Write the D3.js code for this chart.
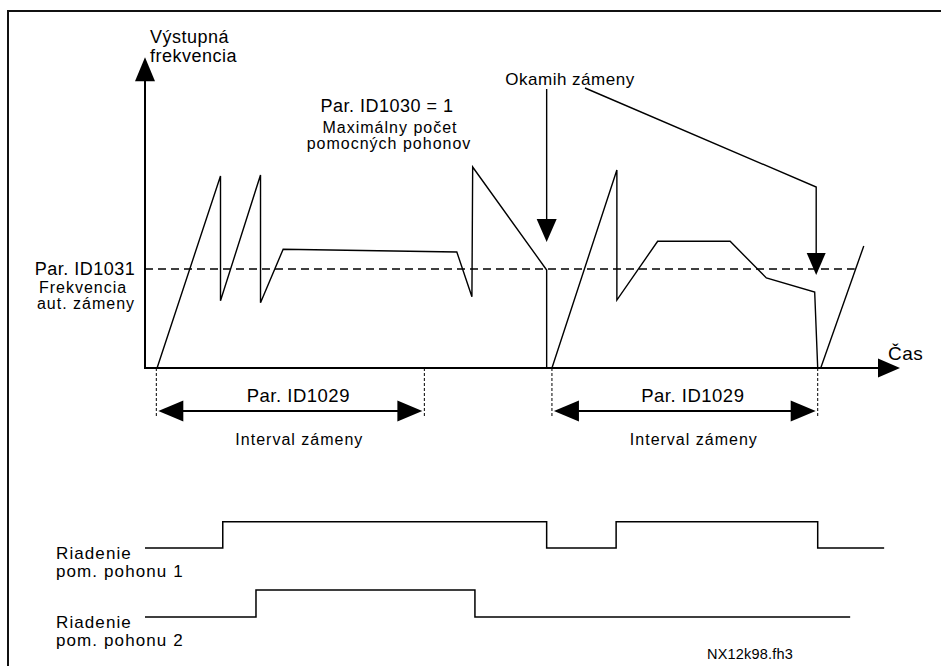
<!DOCTYPE html>
<html>
<head>
<meta charset="utf-8">
<script src="https://cdn.jsdelivr.net/npm/d3@7"></script>
<style>
  body { margin: 0; background: #fff; }
  text { font-family: "Liberation Sans", Arial, sans-serif; fill: #000; letter-spacing: 0.5px; }
  .small { letter-spacing: 1px; }
</style>
</head>
<body>
<div id="chart"></div>
<script>
let width = 941
let height = 666

// output frequency: [time, frequency %] per ramp
let cycle1 = [[1.6,0],[10,97],[10,34],[15.3,97.5],[15.3,33],[18.3,60],[41.3,58.6],[43.3,36],[43.4,101.5],[53.2,49.5],[53.2,0]]
let cycle2 = [[53.9,0],[62.5,100],[62.5,34.3],[67.9,64],[77.5,64],[82.3,45.5],[88.7,38.4],[89.1,0]]
let cycle3 = [[89.5,0],[95.2,61.6]]

let threshold = 50          // Par. ID1031
let thresholdEnd = 94
let changeTimes = [53.2, 88.9]   // okamih zámeny
let changeTips = [63.6, 47]      // where the arrows stop (frequency %)
let intervals = [[1.5, 37], [53.9, 89.1]]   // Par. ID1029

// relay outputs, [time, on/off]
let relay1 = [[0,0],[10.3,1],[53.2,0],[62.4,1],[89.1,0],[97.9,0]]
let relay2 = [[0,0],[14.7,1],[43.7,0],[93.4,0]]

let svg = d3.select('#chart')
            .append('svg')
            .attr('width', width)
            .attr('height', height)

// frame
svg.append('rect')
    .attr('x', 8).attr('y', 11)
    .attr('width', 1000).attr('height', 1000)
    .attr('fill', 'none')
    .attr('stroke', '#111')
    .attr('stroke-width', 2)

let x = d3.scaleLinear().domain([0, 100]).range([145, 900])
let y = d3.scaleLinear().domain([0, 100]).range([368, 170])
let r1 = d3.scaleLinear().domain([0, 1]).range([548, 521.7])
let r2 = d3.scaleLinear().domain([0, 1]).range([617, 590])

function head(tx, ty, dir, len, half) {
    // dir: 'up','down','left','right'
    let pts
    if (dir == 'up') pts = [[tx,ty],[tx-half,ty+len],[tx+half,ty+len]]
    if (dir == 'down') pts = [[tx,ty],[tx-half,ty-len],[tx+half,ty-len]]
    if (dir == 'left') pts = [[tx,ty],[tx+len,ty-half],[tx+len,ty+half]]
    if (dir == 'right') pts = [[tx,ty],[tx-len,ty-half],[tx-len,ty+half]]
    svg.append('polygon')
        .attr('points', pts.map(p => p.join(',')).join(' '))
        .attr('fill', '#000')
}

// axes
let yTop = 157
let xEnd = 100
svg.append('path')
    .attr('d', d3.line()([[x(0), y(yTop) + 10], [x(0), y(0)], [x(xEnd) - 10, y(0)]]))
    .attr('fill', 'none').attr('stroke', '#000').attr('stroke-width', 2)
head(x(0), y(yTop), 'up', 24, 10)
head(x(xEnd), y(0), 'right', 22, 9.5)

svg.append('text').attr('x', x(0) + 5).attr('y', 43).style('font-size', '18px').text('Výstupná')
svg.append('text').attr('x', x(0) + 5).attr('y', 62).style('font-size', '18px').text('frekvencia')
svg.append('text').attr('x', x(xEnd) - 12).attr('y', y(0) - 8).style('font-size', '19px').text('Čas')

// threshold
svg.append('line')
    .attr('x1', x(0)).attr('x2', x(thresholdEnd))
    .attr('y1', y(threshold)).attr('y2', y(threshold))
    .attr('stroke', '#000').attr('stroke-width', 1.3)
    .attr('stroke-dasharray', '8,5')

svg.append('text').attr('x', 85).attr('y', y(threshold) + 6)
    .attr('text-anchor', 'middle').style('font-size', '18px').text('Par. ID1031')
svg.append('text').attr('class', 'small').attr('x', 83).attr('y', y(threshold) + 24)
    .attr('text-anchor', 'middle').style('font-size', '16px').text('Frekvencia')
svg.append('text').attr('class', 'small').attr('x', 86).attr('y', y(threshold) + 40)
    .attr('text-anchor', 'middle').style('font-size', '16px').text('aut. zámeny')

// frequency curve
let line = d3.line().x(d => x(d[0])).y(d => y(d[1]))
svg.selectAll('.cycle')
    .data([cycle1, cycle2, cycle3])
    .enter()
    .append('path')
    .attr('class', 'cycle')
    .attr('d', line)
    .attr('fill', 'none')
    .attr('stroke', '#000')
    .attr('stroke-width', 1.4)
    .attr('stroke-linejoin', 'miter')

svg.append('text').attr('x', 387).attr('y', 112)
    .attr('text-anchor', 'middle').style('font-size', '18px').text('Par. ID1030 = 1')
svg.append('text').attr('class', 'small').attr('x', 390).attr('y', 133)
    .attr('text-anchor', 'middle').style('font-size', '16px').text('Maximálny počet')
svg.append('text').attr('class', 'small').attr('x', 389).attr('y', 149)
    .attr('text-anchor', 'middle').style('font-size', '16px').text('pomocných pohonov')

// okamih zámeny
svg.append('text').attr('x', 570).attr('y', 85)
    .attr('text-anchor', 'middle').style('font-size', '17px').text('Okamih zámeny')
svg.append('path')
    .attr('d', d3.line()([[x(changeTimes[0]), 89], [x(changeTimes[0]), y(changeTips[0]) - 20]]))
    .attr('fill', 'none').attr('stroke', '#000').attr('stroke-width', 1.4)
head(x(changeTimes[0]), y(changeTips[0]), 'down', 23, 10)
svg.append('path')
    .attr('d', d3.line()([[585, 88], [x(changeTimes[1]), 187], [x(changeTimes[1]), y(changeTips[1]) - 20]]))
    .attr('fill', 'none').attr('stroke', '#000').attr('stroke-width', 1.4)
head(x(changeTimes[1]), y(changeTips[1]), 'down', 22, 9.5)

// intervals
intervals.forEach(function(iv) {
    let a = x(iv[0]), b = x(iv[1])
    ;[a, b].forEach(function(px) {
        svg.append('line')
            .attr('x1', px).attr('x2', px)
            .attr('y1', y(0)).attr('y2', 417)
            .attr('stroke', '#000').attr('stroke-width', 1)
            .attr('stroke-dasharray', '3,2')
    })
    svg.append('line')
        .attr('x1', a + 20).attr('x2', b - 20)
        .attr('y1', 411).attr('y2', 411)
        .attr('stroke', '#000').attr('stroke-width', 1.8)
    head(a + 2, 411, 'left', 25, 10.5)
    head(b - 2, 411, 'right', 25, 10.5)
    let mid = (a + b) / 2
    svg.append('text').attr('x', mid + 8).attr('y', 402)
        .attr('text-anchor', 'middle').style('font-size', '18.5px').text('Par. ID1029')
    svg.append('text').attr('class', 'small').attr('x', mid + 9).attr('y', 445)
        .attr('text-anchor', 'middle').style('font-size', '16px').text('Interval zámeny')
})

// relays
let step1 = d3.line().x(d => x(d[0])).y(d => r1(d[1])).curve(d3.curveStepAfter)
let step2 = d3.line().x(d => x(d[0])).y(d => r2(d[1])).curve(d3.curveStepAfter)
svg.append('path').attr('d', step1(relay1))
    .attr('fill', 'none').attr('stroke', '#000').attr('stroke-width', 1.5)
svg.append('path').attr('d', step2(relay2))
    .attr('fill', 'none').attr('stroke', '#000').attr('stroke-width', 1.5)

let relayLabels = [['Riadenie', 'pom. pohonu 1'], ['Riadenie', 'pom. pohonu 2']]
let relayScales = [r1, r2]
relayLabels.forEach(function(lab, i) {
    let base = relayScales[i](0)
    svg.append('text').attr('x', 56).attr('y', base + 11)
        .style('font-size', '17px').style('letter-spacing', '1.1px').text(lab[0])
    svg.append('text').attr('x', 56).attr('y', base + 29)
        .style('font-size', '17px').style('letter-spacing', '1.1px').text(lab[1])
})

svg.append('text').attr('x', 707).attr('y', 659)
    .style('font-size', '14.5px').style('letter-spacing', '0.2px').text('NX12k98.fh3')
</script>
</body>
</html>
